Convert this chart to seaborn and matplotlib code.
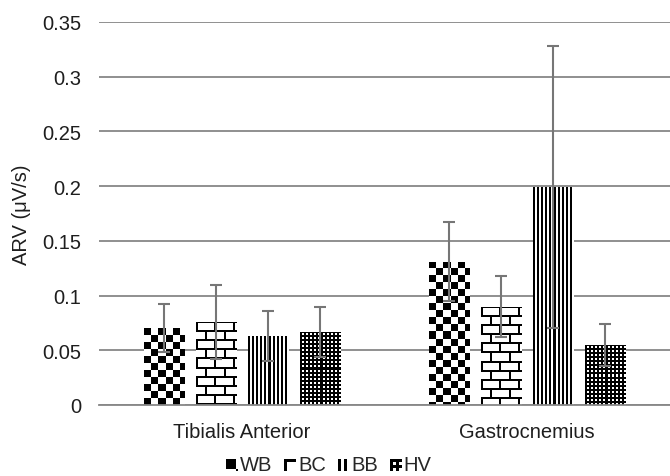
import numpy as np
import pandas as pd
import matplotlib
matplotlib.use("Agg")
import matplotlib.pyplot as plt
import seaborn as sns
from matplotlib.image import BboxImage
from matplotlib.transforms import Bbox, TransformedBbox
from matplotlib.legend_handler import HandlerBase

# ---- data ----
muscles = ["Tibialis Anterior", "Gastrocnemius"]
conditions = ["WB", "BC", "BB", "HV"]
arv_ta = [0.070, 0.076, 0.063, 0.067]
arv_gm = [0.131, 0.090, 0.199, 0.055]
err_ta = [0.022, 0.034, 0.023, 0.023]
err_gm = [0.036, 0.028, 0.129, 0.019]
y_ticks = [0, 0.05, 0.1, 0.15, 0.2, 0.25, 0.3, 0.35]
y_label = "ARV (μV/s)"

rows = []
for m, vals, errs in [(muscles[0], arv_ta, err_ta), (muscles[1], arv_gm, err_gm)]:
    for c, v, e in zip(conditions, vals, errs):
        rows.append({"muscle": m, "condition": c, "arv": v, "err": e})
df = pd.DataFrame(rows)

sns.set_theme(style="white")
plt.rcParams["font.family"] = ["Liberation Sans", "DejaVu Sans"]
FS = 14.5
TXT = "#1e1e1e"
GRID = "#878787"

fig = plt.figure(figsize=(6.70, 4.77), dpi=100)
ax = fig.add_axes([99 / 670, 1 - 406 / 477, 571 / 670, 383 / 477])

sns.barplot(data=df, x="muscle", y="arv", hue="condition", order=muscles,
            hue_order=conditions, palette=["white"] * 4, width=0.73,
            errorbar=None, edgecolor="none", linewidth=0, ax=ax, legend=False)

ax.set_ylim(0, 0.35)
ax.set_yticks(y_ticks)
ax.set_yticklabels([f"{t:g}" for t in y_ticks], fontsize=FS, color=TXT)
ax.set_ylabel(y_label, fontsize=FS, color=TXT, labelpad=8)
ax.set_xlabel("")
ax.tick_params(axis="x", labelsize=FS, colors=TXT, length=0, pad=12)
ax.tick_params(axis="y", length=0, pad=13)
ax.set_axisbelow(True)
ax.yaxis.grid(True, color=GRID, linewidth=1.3)
for s in ["top", "left", "right"]:
    ax.spines[s].set_visible(False)
ax.spines["bottom"].set_color(GRID)
ax.spines["bottom"].set_linewidth(1.3)
ax.set_xlim(-0.5, 1.5)


# ---- pattern generators (pixel arrays, 0 = black, 1 = white) ----
def pat_checker(h, w):
    yy, xx = np.mgrid[0:h, 0:w]
    return (((yy // 7) + (xx // 7)) % 2).astype(float)


def pat_brick(h, w):
    yy, xx = np.mgrid[0:h, 0:w]
    img = np.ones((h, w))
    row = yy // 9
    img[(yy % 9) < 2] = 0
    off = np.where(row % 2 == 0, 0, 9)
    img[((xx + off) % 18) < 2] = 0
    return img


def pat_vlines(h, w):
    yy, xx = np.mgrid[0:h, 0:w]
    return ((xx % 4) >= 2).astype(float)


def pat_dots(h, w):
    yy, xx = np.mgrid[0:h, 0:w]
    return (((xx % 4) >= 2) & ((yy % 4) >= 2)).astype(float)


patterns = {"WB": pat_checker, "BC": pat_brick, "BB": pat_vlines, "HV": pat_dots}

bars = [p for p in ax.patches]
fig.canvas.draw()
for i, bar in enumerate(bars):
    cond = conditions[i // len(muscles)]
    # shrink bar width to leave gaps between bars
    w = bar.get_width()
    cx = bar.get_x() + w / 2
    nw = w * 40 / 52
    bar.set_x(cx - nw / 2)
    bar.set_width(nw)
    bb = bar.get_window_extent()
    hpx = max(int(round(bb.height)), 1)
    wpx = max(int(round(bb.width)), 1)
    img = patterns[cond](hpx, wpx)
    im = ax.imshow(img, extent=(bar.get_x(), bar.get_x() + nw, 0, bar.get_height()),
                   origin="upper", cmap="gray", vmin=0, vmax=1,
                   interpolation="nearest", aspect="auto", zorder=2)
    im.set_clip_path(bar)

# error bars from data arrays at bar centers
for i, bar in enumerate(bars):
    cond_idx = i // len(muscles)
    mus_idx = i % len(muscles)
    cx = bar.get_x() + bar.get_width() / 2
    val = [arv_ta, arv_gm][mus_idx][cond_idx]
    err = [err_ta, err_gm][mus_idx][cond_idx]
    ax.errorbar(cx, val, yerr=err, fmt="none", ecolor="#767676",
                elinewidth=1.5, capsize=4.2, capthick=1.5, zorder=4)

ax.set_xlim(-0.5, 1.5)
ax.set_ylim(0, 0.35)


# ---- legend with pattern swatches ----
class PatternHandler(HandlerBase):
    def __init__(self, func):
        super().__init__()
        self.func = func

    def create_artists(self, legend, orig_handle, xdescent, ydescent, width,
                       height, fontsize, trans):
        s = 8
        bbox = Bbox.from_bounds(width - s, 0, s, s)
        img = BboxImage(TransformedBbox(bbox, trans), cmap="gray", norm=None,
                        interpolation="nearest", origin="upper")
        img.set_data(self.func(s, s))
        img.set_clim(0, 1)
        return [img]


handles = [plt.Rectangle((0, 0), 1, 1, label=c) for c in conditions]
hmap = {h: PatternHandler(patterns[c]) for h, c in zip(handles, conditions)}
fig.legend(handles=handles, labels=conditions, handler_map=hmap,
           loc="center", bbox_to_anchor=(330 / 670, 1 - 466 / 477), ncol=4,
           frameon=False, fontsize=FS, handlelength=0.45, handletextpad=0.12,
           columnspacing=0.7, handleheight=0.7, borderpad=0.1)

fig.savefig("out.png", dpi=100)
